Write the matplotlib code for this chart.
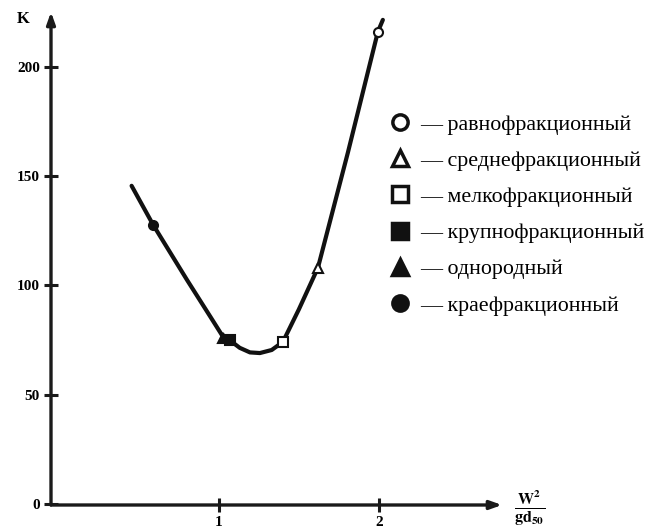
import matplotlib
matplotlib.use("Agg")
import matplotlib.pyplot as plt
from matplotlib.lines import Line2D

plt.rcParams['font.family'] = ['Liberation Serif', 'DejaVu Serif']
plt.rcParams['mathtext.fontset'] = 'stix'

# curve K(W^2/gd50)
curve_x = [0.454, 0.589, 0.80, 0.95, 1.025, 1.069, 1.13, 1.194, 1.256, 1.33,
           1.40, 1.50, 1.619, 1.806, 1.994, 2.025]
curve_k = [145.5, 127.6, 102.5, 85.2, 76.5, 74.8, 71.4, 69.3, 69.0, 70.4,
           74.1, 89.0, 108.0, 160.6, 216.0, 221.4]

# experimental points, one per soil type
soil_names = ["равнофракционный", "среднефракционный", "мелкофракционный",
              "крупнофракционный", "однородный", "краефракционный"]
soil_x = [1.994, 1.619, 1.40, 1.069, 1.025, 0.589]
soil_k = [216.0, 108.0, 74.1, 75.0, 75.9, 127.6]
soil_marker = ["o", "^", "s", "s", "^", "o"]
soil_filled = [False, False, False, True, True, True]

yticks = [0, 50, 100, 150, 200]
xticks = [1, 2]

fig = plt.figure(figsize=(6.51, 5.29), dpi=100)
ax = fig.add_axes([51 / 651, 24 / 529, 451 / 651, 493 / 529])
ax.set_xlim(-0.05, 2.77)
ax.set_ylim(-0.5, 225)

for s in ax.spines.values():
    s.set_visible(False)

# axes drawn as arrows
arrow = dict(arrowstyle="-|>,head_length=0.7,head_width=0.25", lw=2.4,
             color="#1a1a1a", shrinkA=0, shrinkB=0)
ax.annotate("", xy=(0, 1), xytext=(0, 0), xycoords="axes fraction",
            textcoords="axes fraction", arrowprops=arrow)
ax.annotate("", xy=(1, 0), xytext=(0, 0), xycoords="axes fraction",
            textcoords="axes fraction", arrowprops=arrow)

ax.set_yticks(yticks)
ax.set_xticks(xticks)
ax.tick_params(direction="inout", length=10, width=2.2, color="#1a1a1a",
               labelsize=11, pad=3)
for lab in ax.get_xticklabels() + ax.get_yticklabels():
    lab.set_fontweight("bold")

ax.text(-0.225, 222, "K", fontsize=12, fontweight="bold", ha="center", va="center")
ax.text(2.94, -1.8, r"$\mathbf{\frac{W^2}{gd_{50}}}$", fontsize=16.5,
        ha="center", va="center", clip_on=False)

ax.plot(curve_x, curve_k, color="#111111", lw=3, solid_capstyle="round",
        solid_joinstyle="round", zorder=3)

handles = []
for x, k, m, f in zip(soil_x, soil_k, soil_marker, soil_filled):
    fc = "#111111" if f else "white"
    ax.plot(x, k, marker=m, ms=6.5, mfc=fc, mec="#111111", mew=1.5,
            ls="none", zorder=4)
    handles.append(Line2D([], [], marker=m, ms=11, mfc=fc, mec="#111111",
                          mew=2.5, ls="none"))

ax.legend(handles, ["— " + n for n in soil_names], loc="upper left",
          bbox_to_anchor=(0.73, 0.81), frameon=False, fontsize=15.8,
          handlelength=1.0, handletextpad=0.4, labelspacing=0.72,
          borderaxespad=0)

fig.savefig("out.png", dpi=100)
